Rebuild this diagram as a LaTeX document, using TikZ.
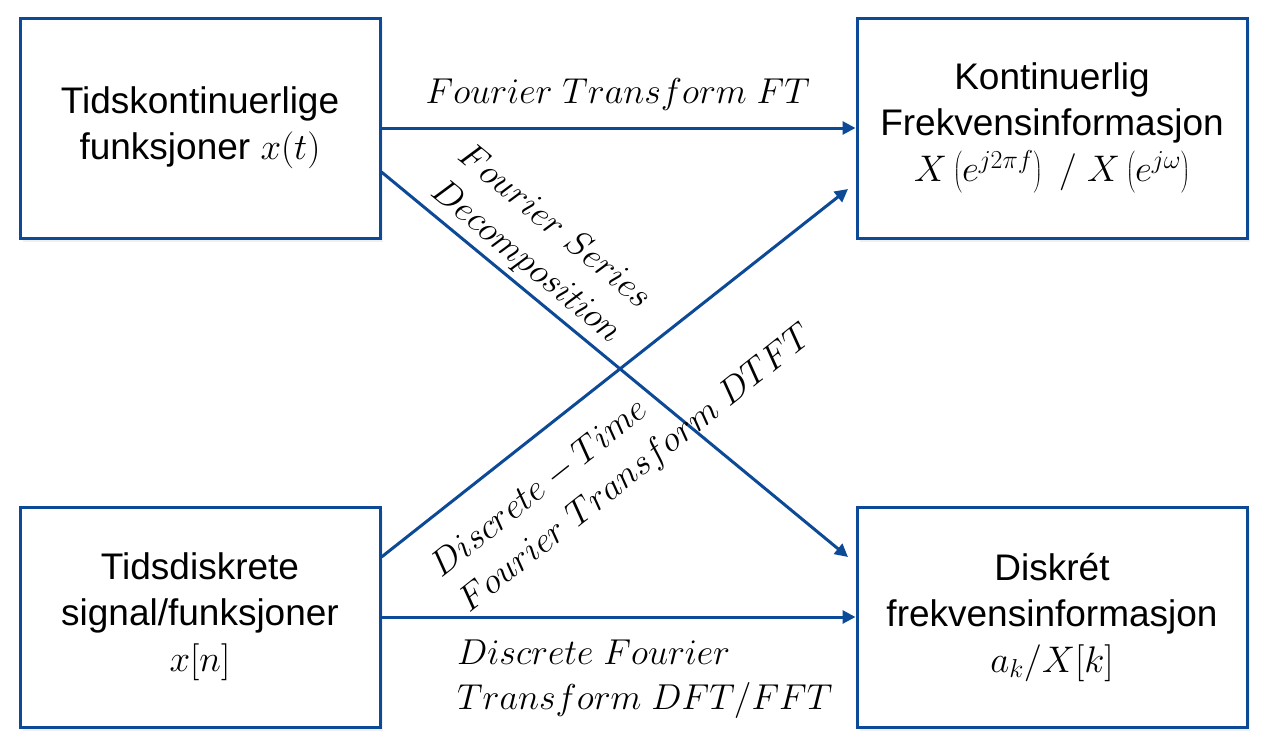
\documentclass[tikz,border=0pt]{standalone}
\usepackage{fix-cm}
\usepackage[no-math]{fontspec}
\setmainfont{Liberation Sans}
\usetikzlibrary{arrows.meta,shadows}

\definecolor{boxblue}{RGB}{12,74,152}

\begin{document}
\begin{tikzpicture}[x=1pt, y=-1pt,
    box/.style={draw=boxblue, line width=3pt, fill=white, align=center,
      minimum height=220pt, inner sep=0pt,
      drop shadow={opacity=0.12, shadow xshift=3pt, shadow yshift=-4pt},
      font=\fontsize{37}{46}\selectfont},
    lbl/.style={inner sep=0pt, font=\fontsize{36}{45}\selectfont},
    arr/.style={draw=boxblue, line width=3pt, -{Triangle[length=13pt,width=13pt]}}]
\useasboundingbox (0,0) rectangle (1278,750);

% boxes
\node [box, minimum width=360pt] (tl) at (200,128) {Tidskontinuerlige\\funksjoner $x(t)$};
\node [box, minimum width=390pt] (tr) at (1052,128) {Kontinuerlig\\Frekvensinformasjon\\$X\left(e^{j2\pi f}\right)\ /\ X\left(e^{j\omega}\right)$};
\node [box, minimum width=360pt] (bl) at (200,617) {Tidsdiskrete\\signal/funksjoner\\$x[n]$};
\node [box, minimum width=390pt] (br) at (1052,617) {Diskrét\\frekvensinformasjon\\$a_k/X[k]$};

% free arrow ends
\coordinate (fs-end) at (848,557);
\coordinate (dtft-end) at (848,189);

% arrows
\draw [arr] (tl.east) -- (tr.west);
\draw [arr] ([yshift=-44pt]tl.east) -- (fs-end);
\draw [arr] ([yshift=60pt]bl.east) -- (dtft-end);
\draw [arr] (bl.east) -- (br.west);

% labels
\node [lbl, anchor=base] (ft) at (618,103) {$Fourier\ Transform\ FT$};
\node [lbl, align=center, rotate=-39.4] (fs) at (540,245) {$Fourier\ Series$\\$Decomposition$};
\node [lbl, align=left, rotate=38.4] (dtft) at (623,452) {$Discrete-Time$\\$Fourier\ Transform\ DTFT$};
\node [lbl, align=left, anchor=west] (dft) at (457,679) {$Discrete\ Fourier$\\$Transform\ DFT/FFT$};

\end{tikzpicture}
\end{document}
